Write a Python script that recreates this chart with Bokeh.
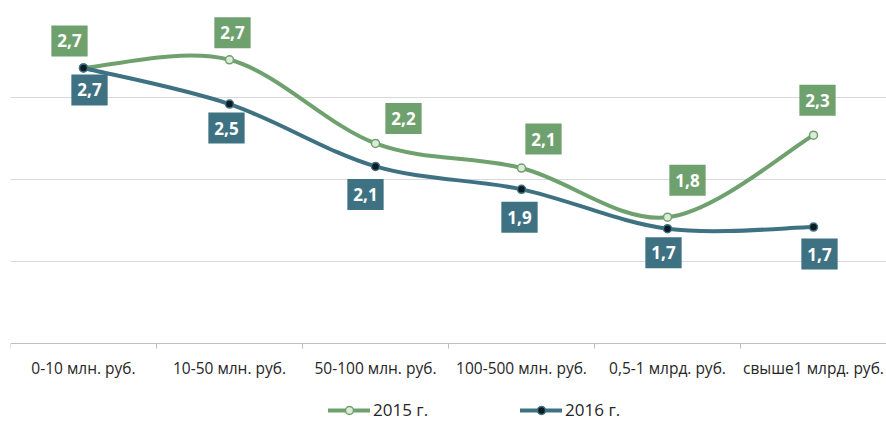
from bokeh.plotting import figure
from bokeh.models import Range1d, FixedTicker, ColumnDataSource, Legend, LegendItem
from bokeh.core.properties import value
from bokeh.embed import file_html
from bokeh.resources import INLINE

categories = ["0-10 млн. руб.", "10-50 млн. руб.", "50-100 млн. руб.",
              "100-500 млн. руб.", "0,5-1 млрд. руб.", "свыше1 млрд. руб."]
values_2015 = [2.68, 2.73, 2.22, 2.07, 1.77, 2.27]
values_2016 = [2.68, 2.46, 2.08, 1.94, 1.70, 1.71]
series_names = ["2015 г.", "2016 г."]
grid_values = [1.5, 2.0, 2.5, 3.0]
axis_base = 1.0

# label placement offsets in pixels (style, not data)
off_2015 = [(-14, -27), (3, -27), (28, -25), (22, -29), (20, -37), (4, -35)]
off_2016 = [(6, 22), (-3, 24), (-10, 28), (-2, 28), (-4, 24), (6, 27)]

GREEN = "#6fa16f"
TEAL = "#3e7282"
FONT = "Open Sans"

xs = list(range(len(categories)))


def smooth_controls(x, y):
    n = len(x)
    d = dict(x0=[], y0=[], x1=[], y1=[], cx0=[], cy0=[], cx1=[], cy1=[])
    for i in range(n - 1):
        a = i - 1 if i > 0 else i
        b = i + 2 if i + 2 < n else i + 1
        d["x0"].append(x[i]); d["y0"].append(y[i])
        d["x1"].append(x[i + 1]); d["y1"].append(y[i + 1])
        d["cx0"].append(x[i] + (x[i + 1] - x[a]) / 6)
        d["cy0"].append(y[i] + (y[i + 1] - y[a]) / 6)
        d["cx1"].append(x[i + 1] - (x[b] - x[i]) / 6)
        d["cy1"].append(y[i + 1] - (y[b] - y[i]) / 6)
    return d


# frame spans to the bottom of the page so the legend can sit inside it
p = figure(frame_width=876, frame_height=406,
           x_range=Range1d(-0.5, 5.5), y_range=Range1d(3 - 406 / 164, 3),
           output_backend="svg", toolbar_location=None)
p.min_border_left = 10
p.min_border_right = 0
p.min_border_top = 15
p.min_border_bottom = 0
p.outline_line_color = None
p.background_fill_color = "white"
p.border_fill_color = "white"

p.yaxis.visible = False
p.xgrid.visible = False
p.ygrid.ticker = FixedTicker(ticks=grid_values)
p.ygrid.grid_line_color = "#d9d9d9"
p.ygrid.grid_line_width = 1

ax = p.xaxis[0]
ax.fixed_location = axis_base
ax.ticker = FixedTicker(ticks=xs, minor_ticks=[i - 0.5 for i in range(len(categories) + 1)])
ax.major_label_overrides = {i: c for i, c in zip(xs, categories)}
ax.axis_line_color = "#bfbfbf"
ax.major_tick_line_color = None
ax.major_tick_out = 0
ax.major_tick_in = 0
ax.minor_tick_line_color = "#bfbfbf"
ax.minor_tick_in = 0
ax.minor_tick_out = 5
ax.major_label_standoff = 8
ax.major_label_text_font = FONT
ax.major_label_text_font_size = "15.5px"
ax.major_label_text_color = "#262626"

renderers = []
for vals, col, fill in [
    (values_2015, GREEN, "#dcebd6"),
    (values_2016, TEAL, "#0c1b24"),
]:
    bz = p.bezier(source=ColumnDataSource(smooth_controls(xs, vals)),
                  x0="x0", y0="y0", x1="x1", y1="y1",
                  cx0="cx0", cy0="cy0", cx1="cx1", cy1="cy1",
                  line_color=col, line_width=4, line_cap="round")
    sc = p.scatter(xs, vals, size=8, fill_color=fill, line_color=col, line_width=1.5)
    renderers.append((bz, sc))

for vals, col, offs in [(values_2015, GREEN, off_2015), (values_2016, TEAL, off_2016)]:
    src = ColumnDataSource(dict(
        x=xs, y=vals,
        t=[f"{v:.1f}".replace(".", ",") for v in vals],
        dx=[o[0] for o in offs], dy=[o[1] for o in offs]))
    p.text(x="x", y="y", text="t", x_offset="dx", y_offset="dy", source=src,
           text_color="white", text_font=value(FONT), text_font_style="bold",
           text_font_size="17px", text_align="center", text_baseline="middle",
           background_fill_color=col, padding=[6, 9])

legend = Legend(items=[LegendItem(label=series_names[i], renderers=list(renderers[i]))
                       for i in range(2)],
                orientation="horizontal", location=(318, 0),
                glyph_width=42, glyph_height=20, label_standoff=3, spacing=92,
                padding=0, margin=0, border_line_color=None,
                background_fill_alpha=0,
                label_text_font=FONT, label_text_font_size="17px",
                label_text_color="#262626")
p.add_layout(legend)

open("out.html", "w").write(file_html(p, INLINE))
